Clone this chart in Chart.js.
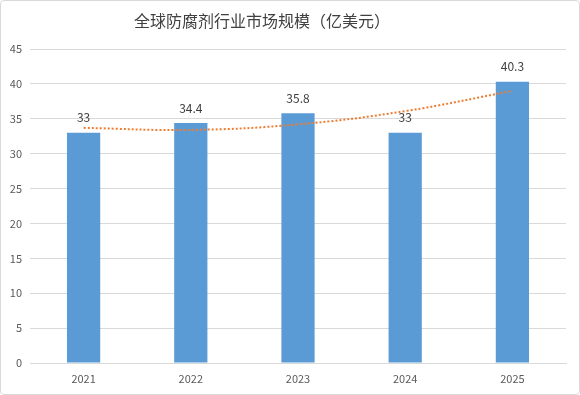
<!DOCTYPE html>
<html>
<head>
<meta charset="utf-8">
<script src="https://cdn.jsdelivr.net/npm/chart.js@4/dist/chart.umd.min.js"></script>
<style>
    html, body { margin: 0; padding: 0; background: #fff; }
    #box {
        position: relative;
        width: 578px;
        height: 393px;
        border: 1px solid #d9d9d9;
        border-radius: 4px;
    }
</style>
</head>
<body>
<div id="box"><canvas id="barChart"></canvas></div>
<script>
// 数据
const years = ["2021", "2022", "2023", "2024", "2025"];
const marketSize = [33, 34.4, 35.8, 33, 40.3];
// 趋势线（从图上读出的多项式趋势线）
const trendValues = [33.7, 33.4, 34.2, 36.1, 39.0];
const titleText = "全球防腐剂行业市场规模（亿美元）";

const fontFamily = "'Noto Sans CJK SC', 'Liberation Sans', sans-serif";

// 标题：偏左，自己画
const titlePlugin = {
    id: "offsetTitle",
    afterDraw(chart) {
        const ctx = chart.ctx;
        ctx.save();
        ctx.font = "16px " + fontFamily;
        ctx.fillStyle = "#404040";
        ctx.textAlign = "center";
        ctx.textBaseline = "middle";
        ctx.fillText(titleText, 261, 20);
        ctx.restore();
    }
};

// 柱子上方的数值
const valueLabels = {
    id: "valueLabels",
    afterDatasetsDraw(chart) {
        const ctx = chart.ctx;
        const meta = chart.getDatasetMeta(0);
        ctx.save();
        ctx.font = "12px " + fontFamily;
        ctx.fillStyle = "#404040";
        ctx.textAlign = "center";
        ctx.textBaseline = "middle";
        meta.data.forEach((bar, i) => {
            ctx.fillText(String(marketSize[i]), bar.x, bar.y - 15);
        });
        ctx.restore();
    }
};

const data = {
    labels: years,
    datasets: [{
        type: "bar",
        label: "市场规模",
        data: marketSize,
        backgroundColor: "#5b9bd5",
        barPercentage: 0.31,
        categoryPercentage: 1,
        order: 2
    }, {
        type: "line",
        label: "趋势线",
        data: trendValues,
        borderColor: "#ed7d31",
        borderWidth: 2,
        borderDash: [2, 2],
        pointRadius: 0,
        tension: 0.4,
        fill: false,
        order: 1
    }]
};

const config = {
    data: data,
    options: {
        responsive: true,
        maintainAspectRatio: false,
        animation: false,
        layout: {
            padding: { top: 48, right: 13, left: 0, bottom: 0 }
        },
        scales: {
            x: {
                grid: { display: false },
                border: { color: "#d9d9d9" },
                ticks: {
                    color: "#595959",
                    font: { size: 11, family: fontFamily },
                    padding: 1
                },
                afterFit: (s) => { s.height = 31; }
            },
            y: {
                min: 0,
                max: 45,
                ticks: {
                    stepSize: 5,
                    color: "#595959",
                    font: { size: 11, family: fontFamily },
                    padding: 8
                },
                grid: { color: "#d9d9d9", drawTicks: false },
                border: { display: false },
                afterFit: (s) => { s.width = 29; }
            }
        },
        plugins: {
            legend: { display: false },
            tooltip: { enabled: false }
        }
    },
    plugins: [titlePlugin, valueLabels]
};

const barChart = new Chart(document.getElementById("barChart").getContext("2d"), config);
</script>
</body>
</html>
